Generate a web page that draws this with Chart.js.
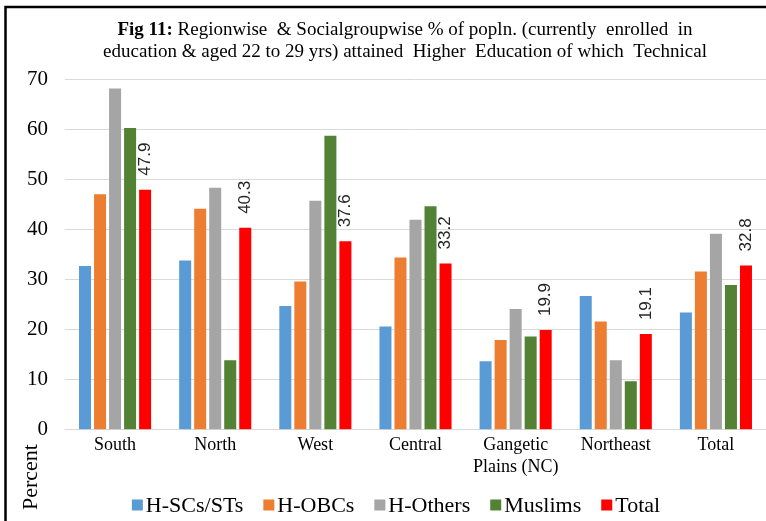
<!DOCTYPE html>
<html>
<head>
<meta charset="utf-8">
<script src="https://cdn.jsdelivr.net/npm/chart.js@4/dist/chart.umd.min.js"></script>
<style>
    html, body { margin: 0; padding: 0; background: #fff; }
    #wrap { width: 766px; height: 521px; position: relative; }
</style>
</head>
<body>
<div id="wrap"><canvas id="myChart" width="766" height="521"></canvas></div>
<script>
const categories = ['South', 'North', 'West', 'Central', ['Gangetic', 'Plains (NC)'], 'Northeast', 'Total'];
const seriesNames = ['H-SCs/STs', 'H-OBCs', 'H-Others', 'Muslims', 'Total'];
const scStValues = [32.7, 33.8, 24.7, 20.6, 13.7, 26.7, 23.4];
const obcValues = [47.0, 44.1, 29.6, 34.4, 17.9, 21.6, 31.6];
const othersValues = [68.1, 48.3, 45.7, 41.9, 24.1, 13.9, 39.1];
const muslimValues = [60.2, 13.9, 58.7, 44.6, 18.6, 9.7, 28.9];
const totalValues = [47.9, 40.3, 37.6, 33.2, 19.9, 19.1, 32.8];
const yTicks = [0, 10, 20, 30, 40, 50, 60, 70];

const colors = ['#5B9BD5', '#ED7D31', '#A5A5A5', '#548235', '#FF0000'];
const serif = "'Liberation Serif', 'Times New Roman', serif";
const sans = "'Liberation Sans', Arial, sans-serif";

document.addEventListener("DOMContentLoaded", function() {
    const ctx = document.getElementById('myChart').getContext('2d');

    const extras = {
        id: 'extras',
        beforeDraw: (chart) => {
            const c = chart.ctx;
            c.save();
            c.fillStyle = '#fff';
            c.fillRect(0, 0, chart.width, chart.height);
            c.restore();
        },
        afterDraw: (chart) => {
            const c = chart.ctx;
            c.save();

            // frame (top + left edge of the original box)
            c.strokeStyle = '#000';
            c.lineWidth = 2.5;
            c.beginPath();
            c.moveTo(5.5, chart.height);
            c.lineTo(5.5, 7);
            c.lineTo(chart.width, 7);
            c.stroke();

            // title, with bold lead-in
            c.fillStyle = '#000';
            c.textBaseline = 'alphabetic';
            c.textAlign = 'left';
            const cx = 405;
            const boldPart = 'Fig 11:';
            const restPart = ' Regionwise  & Socialgroupwise % of popln. (currently  enrolled  in';
            c.font = 'bold 19px ' + serif;
            const wb = c.measureText(boldPart).width;
            c.font = '19px ' + serif;
            const wr = c.measureText(restPart).width;
            let x0 = cx - (wb + wr) / 2;
            c.font = 'bold 19px ' + serif;
            c.fillText(boldPart, x0, 35);
            c.font = '19px ' + serif;
            c.fillText(restPart, x0 + wb, 35);
            c.textAlign = 'center';
            c.fillText('education & aged 22 to 29 yrs) attained  Higher  Education of which  Technical', cx, 57);

            // data labels on the Total series
            const meta = chart.getDatasetMeta(4);
            c.font = '17px ' + sans;
            c.fillStyle = '#262626';
            c.textAlign = 'left';
            c.textBaseline = 'middle';
            meta.data.forEach((bar, i) => {
                c.save();
                c.translate(bar.x, bar.y - 14);
                c.rotate(-Math.PI / 2);
                c.fillText(totalValues[i].toFixed(1), 0, 0);
                c.restore();
            });

            // y axis title
            c.save();
            c.font = '22px ' + serif;
            c.fillStyle = '#000';
            c.textAlign = 'center';
            c.textBaseline = 'middle';
            c.translate(31, 477);
            c.rotate(-Math.PI / 2);
            c.fillText('Percent', 0, 0);
            c.restore();

            // legend
            c.font = '22px ' + serif;
            c.textAlign = 'left';
            c.textBaseline = 'middle';
            const box = 11, gapText = 3, gapItem = 20;
            const items = chart.data.datasets.map(ds => ({
                label: ds.label, color: ds.backgroundColor,
                w: box + gapText + c.measureText(ds.label).width
            }));
            const totalW = items.reduce((s, it) => s + it.w, 0) + gapItem * (items.length - 1);
            let lx = 396 - totalW / 2;
            const ly = 505;
            items.forEach(it => {
                c.fillStyle = it.color;
                c.fillRect(lx, ly - box / 2, box, box);
                c.fillStyle = '#000';
                c.fillText(it.label, lx + box + gapText, ly + 1);
                lx += it.w + gapItem;
            });

            c.restore();
        }
    };

    const seriesValues = [scStValues, obcValues, othersValues, muslimValues, totalValues];

    new Chart(ctx, {
        type: 'bar',
        data: {
            labels: categories,
            datasets: seriesNames.map((name, i) => ({
                label: name,
                data: seriesValues[i],
                backgroundColor: colors[i],
                borderWidth: 0,
                categoryPercentage: 0.75,
                barPercentage: 0.8
            }))
        },
        options: {
            responsive: false,
            animation: false,
            layout: {
                padding: { top: 79, left: 10, right: 0, bottom: 38 }
            },
            plugins: {
                legend: { display: false },
                title: { display: false },
                tooltip: { enabled: false }
            },
            scales: {
                x: {
                    grid: { display: false, drawTicks: false },
                    border: { color: '#D9D9D9', width: 1 },
                    ticks: {
                        color: '#000',
                        padding: 5,
                        maxRotation: 0,
                        autoSkip: false,
                        font: { family: serif, size: 18 }
                    }
                },
                y: {
                    min: 0,
                    max: 70,
                    afterBuildTicks: (axis) => {
                        axis.ticks = yTicks.map(v => ({ value: v }));
                    },
                    grid: { color: '#D9D9D9', drawTicks: false },
                    border: { display: false },
                    ticks: {
                        color: '#000',
                        padding: 17,
                        font: { family: serif, size: 21 }
                    }
                }
            }
        },
        plugins: [extras]
    });
});
</script>
</body>
</html>
